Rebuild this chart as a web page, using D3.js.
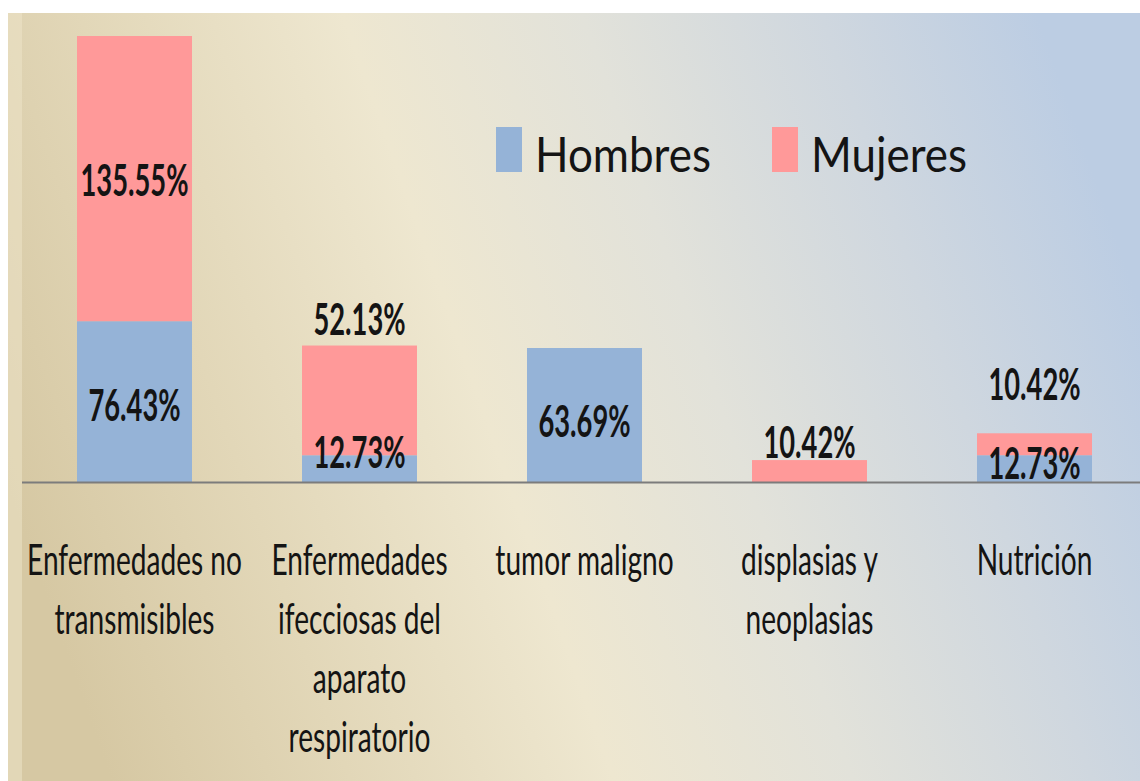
<!DOCTYPE html>
<html>
<head>
<meta charset="utf-8">
<script src="https://cdn.jsdelivr.net/npm/d3@7"></script>
<style>
  html, body { margin: 0; padding: 0; background: #fff; }
  svg { display: block; }
  text { font-family: Lato, "Open Sans", sans-serif; fill: #141414; }
</style>
</head>
<body>
<svg id="chart" width="1140" height="781"></svg>
<script>
// data
const categories = [
  'Enfermedades no transmisibles',
  'Enfermedades ifecciosas del aparato respiratorio',
  'tumor maligno',
  'displasias y neoplasias',
  'Nutrición'
];
const categoryLines = [
  ['Enfermedades no', 'transmisibles'],
  ['Enfermedades', 'ifecciosas del', 'aparato', 'respiratorio'],
  ['tumor maligno'],
  ['displasias y', 'neoplasias'],
  ['Nutrición']
];
const seriesNames = ['Hombres', 'Mujeres'];
const hombres = [76.43, 12.73, 63.69, 0, 12.73];
const mujeres = [135.55, 52.13, 0, 10.42, 10.42];
const colors = ['#95b3d7', '#ff9999'];

// label nudges (px) on top of the default centred placement, per series
const labelNudge = [
  [4, -16, 7, 0, -5],
  [2, -80, 0, -28, -59]
];

const svg = d3.select('#chart');
const W = 1140, H = 781;

// background gradient
const defs = svg.append('defs');
const grad = defs.append('linearGradient')
  .attr('id', 'bg')
  .attr('x1', '0').attr('y1', '0.62')
  .attr('x2', '1').attr('y2', '0.38');
[[0, '#d6c8a3'], [0.2, '#e2d7b8'], [0.42, '#eee7d0'], [0.62, '#e2e2da'], [0.82, '#cfd7df'], [1, '#bccde3']]
  .forEach(s => grad.append('stop').attr('offset', s[0]).attr('stop-color', s[1]));

svg.append('rect')
  .attr('x', 8).attr('y', 13)
  .attr('width', W - 8).attr('height', H - 13)
  .attr('fill', 'url(#bg)');
svg.append('rect')
  .attr('x', 8).attr('y', 13)
  .attr('width', 14).attr('height', H - 13)
  .attr('fill', '#ece4c9').attr('opacity', 0.55);

const baseline = 482;

const x = d3.scaleBand()
  .domain(categories)
  .range([22, 1147])
  .paddingInner(0.489)
  .paddingOuter(0.2445);

const y = d3.scaleLinear()
  .domain([0, 211.98])
  .range([baseline, 36]);

const rows = categories.map((c, i) => ({ cat: c, Hombres: hombres[i], Mujeres: mujeres[i] }));
const stack = d3.stack().keys(seriesNames)(rows);

// horizontal squeeze helper: fit a sample string to a measured width
function squeeze(size, weight, sample, target) {
  const t = svg.append('text')
    .style('font-size', size + 'px').style('font-weight', weight)
    .text(sample);
  const w = t.node().getComputedTextLength();
  t.remove();
  return target / w;
}
const sxValue = squeeze(43, 700, '135.55%', 108);
const sxAxis = squeeze(42, 400, 'Enfermedades no', 215);
const sxLegend = squeeze(49, 400, 'Hombres', 176);

// bars
const layers = svg.append('g').selectAll('g')
  .data(stack)
  .join('g')
  .attr('fill', (d, i) => colors[i]);

layers.selectAll('rect')
  .data(d => d.filter(p => p[1] - p[0] > 0))
  .join('rect')
  .attr('x', d => x(d.data.cat))
  .attr('width', x.bandwidth())
  .attr('y', d => y(d[1]))
  .attr('height', d => y(d[0]) - y(d[1]));

// axis line
svg.append('line')
  .attr('x1', 22).attr('x2', W)
  .attr('y1', baseline + 0.5).attr('y2', baseline + 0.5)
  .attr('stroke', '#7c7c7c')
  .attr('stroke-width', 2);

// value labels
const labels = [];
stack.forEach((layer, si) => {
  layer.forEach((p, ci) => {
    if (p[1] - p[0] <= 0) return;
    labels.push({
      text: (p[1] - p[0]).toFixed(2) + '%',
      cx: x(p.data.cat) + x.bandwidth() / 2,
      cy: (y(p[0]) + y(p[1])) / 2 + 15 + labelNudge[si][ci]
    });
  });
});

svg.append('g').selectAll('text')
  .data(labels)
  .join('text')
  .attr('transform', d => `translate(${d.cx},${d.cy}) scale(${sxValue},1)`)
  .attr('text-anchor', 'middle')
  .style('font-size', '43px')
  .style('font-weight', 700)
  .text(d => d.text);

// category labels
const catG = svg.append('g').selectAll('g')
  .data(categories)
  .join('g')
  .attr('transform', d => `translate(${x(d) + x.bandwidth() / 2},0)`);

catG.selectAll('text')
  .data((d, i) => categoryLines[i])
  .join('text')
  .attr('transform', (d, j) => `translate(0,${575 + j * 59}) scale(${sxAxis},1)`)
  .attr('text-anchor', 'middle')
  .style('font-size', '42px')
  .text(d => d);

// legend
const legendX = [496, 772];
const legend = svg.append('g').selectAll('g')
  .data(seriesNames)
  .join('g')
  .attr('transform', (d, i) => `translate(${legendX[i]},0)`);

legend.append('rect')
  .attr('x', 0).attr('y', 127)
  .attr('width', 26).attr('height', 45)
  .attr('fill', (d, i) => colors[i]);

legend.append('text')
  .attr('transform', `translate(39,172) scale(${sxLegend},1)`)
  .style('font-size', '49px')
  .text(d => d);
</script>
</body>
</html>
